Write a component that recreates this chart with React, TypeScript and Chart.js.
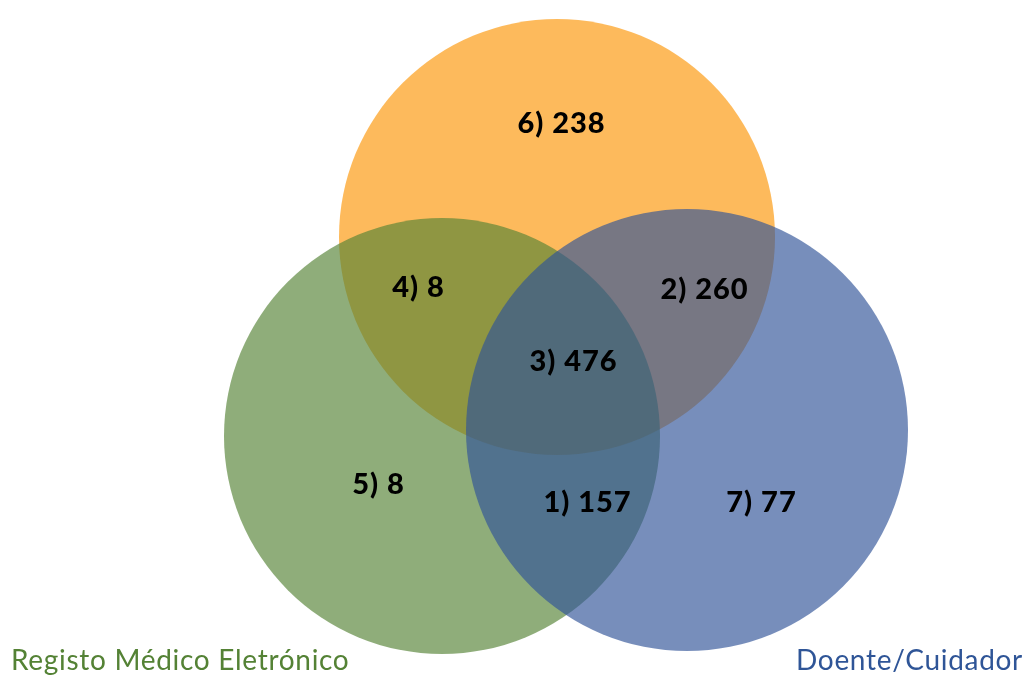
import { useEffect, useRef } from 'react';
import { Chart, registerables } from 'chart.js';

Chart.register(...registerables);

// Sets of the Venn diagram, drawn bottom to top: top set, left set, right set
const setNames = ['', 'Registo Médico Eletrónico', 'Doente/Cuidador'];
const setCenterX = [557, 442, 687];
const setCenterY = [237, 436, 430];
const setRadius = [218, 218, 221];
const setColors = ['rgba(252,150,8,0.66)', 'rgba(85,131,53,0.66)', 'rgba(49,84,152,0.66)'];
const setTextColors = ['#C07000', '#548235', '#2F5597'];

// Region counts and where each count sits
const regionIds = ['6)', '4)', '2)', '3)', '5)', '1)', '7)'];
const regionCounts = [238, 8, 260, 476, 8, 157, 77];
const regionX = [561, 418, 704, 573, 378, 587, 761];
const regionY = [123, 287, 289, 361, 484, 502, 502];

const WIDTH = 1028;
const HEIGHT = 677;

const labelFont = '900 29px Lato';
const titleFont = '28px Lato';

const regionLabelPlugin = {
  id: 'regionLabels',
  afterDatasetsDraw(chart: any) {
    const ctx = chart.ctx;
    const meta = chart.getDatasetMeta(1);
    ctx.save();
    ctx.font = labelFont;
    ctx.letterSpacing = '1px';
    ctx.fillStyle = '#000';
    ctx.textAlign = 'center';
    ctx.textBaseline = 'alphabetic';
    meta.data.forEach((pt: any, i: number) => {
      ctx.fillText(`${regionIds[i]} ${regionCounts[i]}`, pt.x + 0.5, pt.y + 10);
    });

    // Set names along the bottom edge
    ctx.font = titleFont;
    ctx.letterSpacing = '0.7px';
    ctx.textBaseline = 'alphabetic';
    ctx.textAlign = 'left';
    ctx.fillStyle = setTextColors[1];
    ctx.fillText(setNames[1], 11, 670);
    ctx.textAlign = 'right';
    ctx.fillStyle = setTextColors[2];
    ctx.fillText(setNames[2], 1023, 670);
    ctx.restore();
  },
};

export default function App() {
  const canvasRef = useRef<HTMLCanvasElement>(null);

  useEffect(() => {
    let chart: Chart | null = null;
    let cancelled = false;

    const build = () => {
      if (cancelled || !canvasRef.current) return;
      chart = new Chart(canvasRef.current, {
        type: 'bubble',
        data: {
          datasets: [
            {
              label: 'Conjuntos',
              data: setCenterX.map((x, i) => ({ x, y: setCenterY[i], r: setRadius[i] })),
              backgroundColor: setColors,
              borderWidth: 0,
              hoverBorderWidth: 0,
              clip: false,
            },
            {
              label: 'Regiões',
              data: regionX.map((x, i) => ({ x, y: regionY[i], r: 0 })),
              backgroundColor: 'rgba(0,0,0,0)',
              borderWidth: 0,
              clip: false,
            },
          ],
        },
        options: {
          responsive: false,
          maintainAspectRatio: false,
          animation: false,
          events: [],
          layout: { padding: 0, autoPadding: false },
          scales: {
            x: { type: 'linear', min: 0, max: WIDTH, display: false },
            y: { type: 'linear', min: 0, max: HEIGHT, reverse: true, display: false },
          },
          plugins: {
            legend: { display: false },
            tooltip: { enabled: false },
          },
        },
        plugins: [regionLabelPlugin],
      } as any);
    };

    const fonts = (document as any).fonts;
    if (fonts && fonts.load) {
      Promise.all([fonts.load(labelFont), fonts.load(titleFont)])
        .catch(() => undefined)
        .then(build);
    } else {
      build();
    }

    return () => {
      cancelled = true;
      if (chart) chart.destroy();
    };
  }, []);

  return (
    <div
      style={{
        position: 'fixed',
        left: 0,
        top: 0,
        width: WIDTH,
        height: HEIGHT,
        background: '#fff',
        overflow: 'hidden',
      }}
    >
      <canvas ref={canvasRef} width={WIDTH} height={HEIGHT} />
    </div>
  );
}
